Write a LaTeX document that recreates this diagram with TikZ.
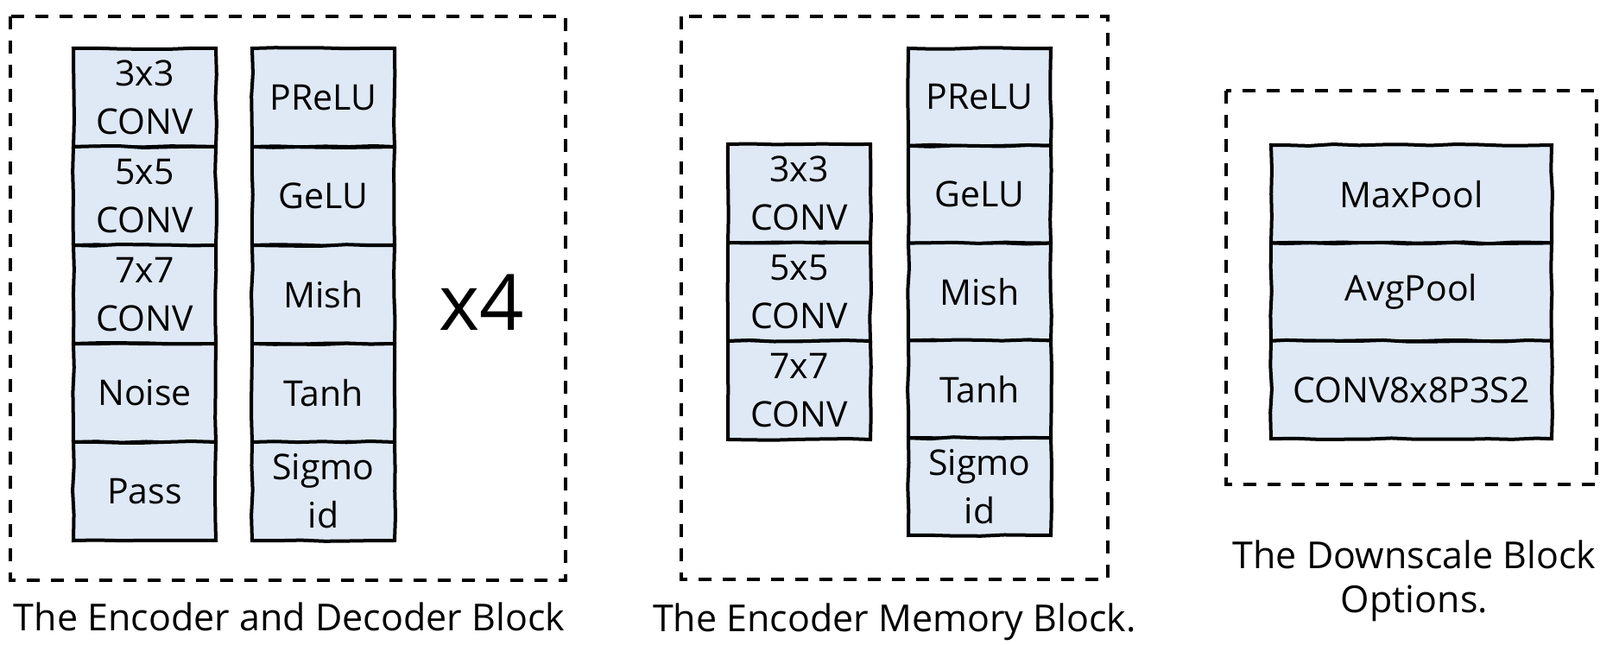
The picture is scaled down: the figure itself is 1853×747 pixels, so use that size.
\documentclass[tikz,border=0pt]{standalone}
\usepackage{fontspec}
\setmainfont{Open Sans}
\usetikzlibrary{positioning,decorations.pathmorphing}
\definecolor{cellblue}{HTML}{DEE9F5}

\begin{document}
\begin{tikzpicture}[x=0.5pt,y=-0.5pt,
font=\fontsize{20.5}{28}\selectfont,
cell/.style={draw=black,line width=2pt,fill=cellblue,align=center,minimum width=82.5pt,minimum height=57pt,inner sep=0pt,outer sep=0pt,decorate,decoration={random steps,segment length=14pt,amplitude=0.5pt}},
widecell/.style={cell,minimum width=162.5pt,minimum height=56.7pt},
dashframe/.style={draw=black,line width=2pt,dash pattern=on 7.5pt off 6.5pt},
blockcap/.style={anchor=base,align=center,font=\fontsize{21.5}{25.5}\selectfont}]
\useasboundingbox (0,0) rectangle (1853,747);
% encoder / decoder block
\draw[dashframe] (12,19) rectangle (655,672);
\node[cell,anchor=north west] (ed3) at (85,56) {3x3\\CONV};
\node[cell,below=0pt of ed3] (ed5) {5x5\\CONV};
\node[cell,below=0pt of ed5] (ed7) {7x7\\CONV};
\node[cell,below=0pt of ed7] (ednoise) {Noise};
\node[cell,below=0pt of ednoise] (edpass) {Pass};
\node[cell,anchor=north west] (edprelu) at (292,56) {PReLU};
\node[cell,below=0pt of edprelu] (edgelu) {GeLU};
\node[cell,below=0pt of edgelu] (edmish) {Mish};
\node[cell,below=0pt of edmish] (edtanh) {Tanh};
\node[cell,below=0pt of edtanh] (edsig) {Sigmo\\id};
\node[font=\fontsize{45}{54}\selectfont] (rep) at (558,350) {x4};
\node[blockcap] (edcap) at (335,731) {The Encoder and Decoder Block};
% encoder memory block
\draw[dashframe] (789,19) rectangle (1283,671);
\node[cell,anchor=north west] (em3) at (843,167) {3x3\\CONV};
\node[cell,below=0pt of em3] (em5) {5x5\\CONV};
\node[cell,below=0pt of em5] (em7) {7x7\\CONV};
\node[cell,anchor=north west,minimum height=56.4pt] (emprelu) at (1052,56) {PReLU};
\node[cell,below=0pt of emprelu,minimum height=56.4pt] (emgelu) {GeLU};
\node[cell,below=0pt of emgelu,minimum height=56.4pt] (emmish) {Mish};
\node[cell,below=0pt of emmish,minimum height=56.4pt] (emtanh) {Tanh};
\node[cell,below=0pt of emtanh,minimum height=56.4pt] (emsig) {Sigmo\\id};
\node[blockcap] (emcap) at (1036,732) {The Encoder Memory Block.};
% downscale block
\draw[dashframe] (1420,105) rectangle (1849,561);
\node[widecell,anchor=north west] (dsmax) at (1472,168) {MaxPool};
\node[widecell,below=0pt of dsmax] (dsavg) {AvgPool};
\node[widecell,below=0pt of dsavg] (dsconv) {CONV8x8P3S2};
\node[blockcap] (dscap) at (1638,710) {The Downscale Block\\Options.};
\end{tikzpicture}
\end{document}
